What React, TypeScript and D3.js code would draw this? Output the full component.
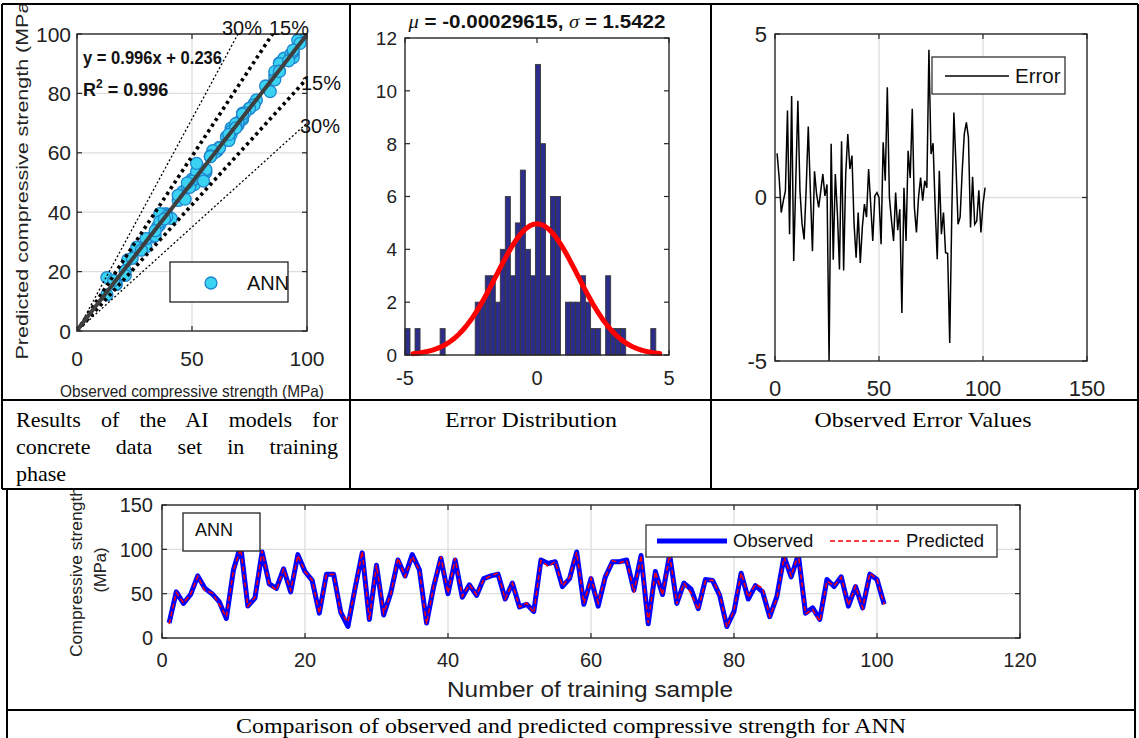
import * as d3 from 'd3';
import { useLayoutEffect, useRef } from 'react';

const W = 1139, H = 738;
const SANS = '"Liberation Sans", Arial, Helvetica, sans-serif';
const SERIF = '"Liberation Serif", "Times New Roman", serif';

// observed compressive strength per training sample (MPa), samples 1..101
const observed = [
  17, 52, 39, 49, 70, 56, 50, 41, 22, 77, 104, 36, 45, 97, 61, 56, 78, 52, 94, 75,
  65, 28, 72, 72, 29, 13, 56, 96, 21, 82, 26, 51, 88, 70, 94, 77, 17, 58, 90, 50,
  88, 46, 60, 48, 67, 70, 72, 44, 62, 35, 38, 30, 88, 84, 86, 58, 67, 97, 38, 67,
  36, 69, 86, 86, 88, 54, 93, 16, 75, 49, 94, 39, 62, 55, 33, 66, 65, 48, 13, 30,
  73, 44, 59, 52, 24, 47, 92, 69, 94, 28, 34, 21, 66, 58, 69, 36, 58, 34, 72, 66, 38,
];

// error (observed - predicted) per sample
const errors = [
  1.35, 0.6, -0.46, -0.1, 0.2, 2.66, -1.12, 3.1, -1.94, 0.5,
  2.96, 0.2, -0.8, -1.28, 0.3, 2.17, 0.2, -1.64, 0.8, 0.1,
  -0.3, 0.2, 0.72, 0.05, 0.4, -5.0, 1.64, -1.9, 0.72, -0.5,
  -2.2, 1.72, -2.23, 0.72, 1.94, 0.87, 1.28, -0.8, -1.84, -0.46,
  -2.0, -0.9, -0.2, -0.6, 0.87, -0.2, -1.33, 0.05, 0.15, 0.0,
  -1.43, 1.69, 0.51, 3.37, 0.0, -0.7, -1.33, 0.15, -1.0, -0.36,
  -3.53, 0.3, -1.33, 1.43, 0.6, 2.71, -0.3, -1.07, 0.0, 0.61,
  -0.1, 0.51, 0.3, 4.52, 1.33, 1.66, -0.3, -1.89, 0.82, -1.12,
  -0.46, -1.69, -1.71, -4.45, -0.5, 2.6, 1.0, -0.82, -0.6, 0.8,
  1.94, 2.3, 1.84, -0.92, 0.63, -0.82, -0.72, 0.22, -1.07, -0.2, 0.3,
];

const predicted = observed.map((o, i) => o - errors[i]);

// histogram of errors (50 bins starting at -5, width 0.19)
const histCounts = [
  1, 0, 1, 0, 0, 0, 0, 1, 0, 0,
  0, 0, 0, 0, 2, 2, 3, 3, 2, 4,
  6, 3, 5, 7, 4, 3, 11, 8, 3, 6,
  6, 0, 2, 2, 2, 3, 2, 1, 1, 0,
  3, 1, 1, 1, 0, 0, 0, 0, 0, 1,
];
const HIST_MIN = -5, HIST_BIN = 0.19;
const MU = -0.00029615, SIGMA = 1.5422;

const FIT_SLOPE = 0.996, FIT_INT = 0.236, FIT_R2 = 0.996;
const bandPcts = [15, 30];

const scatterXTicks = [0, 50, 100];
const scatterYTicks = [0, 20, 40, 60, 80, 100];
const histXTicks = [-5, 0, 5];
const histYTicks = [0, 2, 4, 6, 8, 10, 12];
const errXTicks = [0, 50, 100, 150];
const errYTicks = [-5, 0, 5];
const cmpXTicks = [0, 20, 40, 60, 80, 100, 120];
const cmpYTicks = [0, 50, 100, 150];

const GRID = '#dedede';
const AXIS = '#262626';

type Sc = d3.ScaleLinear<number, number>;

function Frame({ xs, ys, xt, yt, grid = { x: [], y: [] } as { x: number[]; y: number[] }, tick = 5 }:
  { xs: Sc; ys: Sc; xt: number[]; yt: number[]; grid?: { x: number[]; y: number[] }; tick?: number }) {
  const [x0, x1] = xs.range();
  const [y0, y1] = ys.range(); // y0 bottom, y1 top
  return (
    <g>
      {grid.x.map((v) => <line key={'gx' + v} x1={xs(v)} x2={xs(v)} y1={y0} y2={y1} stroke={GRID} strokeWidth={1.3} />)}
      {grid.y.map((v) => <line key={'gy' + v} x1={x0} x2={x1} y1={ys(v)} y2={ys(v)} stroke={GRID} strokeWidth={1.3} />)}
      {xt.map((v) => (
        <g key={'xt' + v}>
          <line x1={xs(v)} x2={xs(v)} y1={y0} y2={y0 - tick} stroke={AXIS} strokeWidth={1.2} />
          <line x1={xs(v)} x2={xs(v)} y1={y1} y2={y1 + tick} stroke={AXIS} strokeWidth={1.2} />
        </g>
      ))}
      {yt.map((v) => (
        <g key={'yt' + v}>
          <line x1={x0} x2={x0 + tick} y1={ys(v)} y2={ys(v)} stroke={AXIS} strokeWidth={1.2} />
          <line x1={x1} x2={x1 - tick} y1={ys(v)} y2={ys(v)} stroke={AXIS} strokeWidth={1.2} />
        </g>
      ))}
    </g>
  );
}

function Box({ xs, ys }: { xs: Sc; ys: Sc }) {
  const [x0, x1] = xs.range();
  const [y0, y1] = ys.range();
  return <rect x={x0} y={y1} width={x1 - x0} height={y0 - y1} fill="none" stroke={AXIS} strokeWidth={1.4} />;
}

function Scatter() {
  const xs = d3.scaleLinear().domain([0, 100]).range([77, 307]);
  const ys = d3.scaleLinear().domain([0, 100]).range([331, 34]);
  const bandLine = (s: number) => (s > 1 ? [100 / s, 100] : [100, 100 * s]);
  return (
    <g fontFamily={SANS}>
      <defs>
        <clipPath id="scClip"><rect x={77} y={34} width={230} height={297} /></clipPath>
        <clipPath id="cellClip"><rect x={3} y={5} width={346} height={394} /></clipPath>
      </defs>
      <Frame xs={xs} ys={ys} xt={scatterXTicks} yt={scatterYTicks} grid={{ x: [50], y: [20, 40, 60, 80] }} />
      <g clipPath="url(#scClip)">
        {observed.map((o, i) => (
          <circle key={i} cx={xs(o)} cy={ys(predicted[i])} r={6} fill="#3ad3f2" stroke="#1f86cf" strokeWidth={1.3} />
        ))}
        {bandPcts.map((p) => {
          const up = bandLine(1 / (1 - p / 100));
          const dn = bandLine(1 - p / 100);
          const thick = p === 15;
          return (
            <g key={p} stroke="#000" fill="none" strokeWidth={thick ? 3.6 : 1.3} strokeDasharray={thick ? '3.2 3.6' : '2 2.2'}>
              <line x1={xs(0)} y1={ys(0)} x2={xs(up[0])} y2={ys(up[1])} />
              <line x1={xs(0)} y1={ys(0)} x2={xs(dn[0])} y2={ys(dn[1])} />
            </g>
          );
        })}
        <line x1={xs(0)} y1={ys(FIT_INT)} x2={xs(100)} y2={ys(FIT_SLOPE * 100 + FIT_INT)} stroke="#3f3f3f" strokeWidth={4} />
      </g>
      <Box xs={xs} ys={ys} />
      {scatterYTicks.map((v) => (
        <text key={v} x={71} y={ys(v)} dy="0.36em" textAnchor="end" fontSize={21} fill="#222">{v}</text>
      ))}
      {scatterXTicks.map((v) => (
        <text key={v} x={xs(v)} y={366} textAnchor="middle" fontSize={21} fill="#222">{v}</text>
      ))}
      <text x={192} y={397} textAnchor="middle" fontSize={16.5} fill="#222" textLength={264} lengthAdjust="spacingAndGlyphs">
        Observed compressive strength (MPa)
      </text>
      <g clipPath="url(#cellClip)">
        <text transform="translate(28,177) rotate(-90)" textAnchor="middle" fontSize={17} fill="#222" textLength={365} lengthAdjust="spacingAndGlyphs">
          Predicted compressive strength (MPa)
        </text>
      </g>
      <text x={83} y={64} fontSize={18} fontWeight="bold" fill="#111" textLength={139} lengthAdjust="spacingAndGlyphs">
        {`y = ${FIT_SLOPE}x + ${FIT_INT}`}
      </text>
      <text x={83} y={96} fontSize={18} fontWeight="bold" fill="#111">
        R<tspan dy={-8} fontSize={12}>2</tspan><tspan dy={8}>{` = ${FIT_R2}`}</tspan>
      </text>
      <text x={222} y={35} fontSize={20} fill="#111">30%</text>
      <text x={269} y={35} fontSize={20} fill="#111">15%</text>
      <text x={301} y={90} fontSize={20} fill="#111">15%</text>
      <text x={300} y={133} fontSize={20} fill="#111">30%</text>
      <rect x={170} y={262} width={118} height={40} fill="#fff" stroke="#222" strokeWidth={1.3} />
      <circle cx={211} cy={283} r={6} fill="#3ad3f2" stroke="#1f86cf" strokeWidth={1.3} />
      <text x={247} y={290} fontSize={20} fill="#111">ANN</text>
    </g>
  );
}

function Histogram() {
  const xs = d3.scaleLinear().domain([-5, 5]).range([405, 669]);
  const ys = d3.scaleLinear().domain([0, 12]).range([355, 38]);
  const scale = d3.sum(histCounts) * HIST_BIN;
  const pdf = (x: number) => Math.exp(-0.5 * ((x - MU) / SIGMA) ** 2) / (SIGMA * Math.sqrt(2 * Math.PI));
  const curve = d3.line<number>().x((x) => xs(x)).y((x) => ys(scale * pdf(x)));
  const xsCurve = d3.range(-4.7, 4.66, 0.05);
  return (
    <g fontFamily={SANS}>
      <Frame xs={xs} ys={ys} xt={histXTicks} yt={histYTicks} />
      {histCounts.map((c, k) =>
        c > 0 ? (
          <rect key={k} x={xs(HIST_MIN + k * HIST_BIN)} y={ys(c)} width={xs(HIST_MIN + (k + 1) * HIST_BIN) - xs(HIST_MIN + k * HIST_BIN)}
            height={ys(0) - ys(c)} fill="#2c2c8a" stroke="#3a3a3a" strokeWidth={0.9} />
        ) : null
      )}
      <path d={curve(xsCurve) || ''} fill="none" stroke="#ff0000" strokeWidth={5} strokeLinecap="round" />
      <Box xs={xs} ys={ys} />
      {histYTicks.map((v) => (
        <text key={v} x={397} y={ys(v)} dy="0.36em" textAnchor="end" fontSize={19} fill="#222">{v}</text>
      ))}
      {histXTicks.map((v) => (
        <text key={v} x={xs(v)} y={385} textAnchor="middle" fontSize={20} fill="#222">{v}</text>
      ))}
      <text x={537} y={28} textAnchor="middle" fontSize={19} fontWeight="bold" fill="#111" textLength={257} lengthAdjust="spacingAndGlyphs">
        <tspan fontStyle="italic" fontWeight="normal" fontFamily={SERIF}>μ</tspan>
        {` = ${MU}, `}
        <tspan fontStyle="italic" fontWeight="normal" fontFamily={SERIF}>σ</tspan>
        {` = ${SIGMA}`}
      </text>
    </g>
  );
}

function ErrorPlot() {
  const xs = d3.scaleLinear().domain([0, 150]).range([775, 1087]);
  const ys = d3.scaleLinear().domain([-5, 5]).range([361, 34]);
  const line = d3.line<number>().x((_, i) => xs(i + 1)).y((e) => ys(e));
  return (
    <g fontFamily={SANS}>
      <Frame xs={xs} ys={ys} xt={errXTicks} yt={errYTicks} grid={{ x: [50, 100], y: [0] }} />
      <path d={line(errors) || ''} fill="none" stroke="#000" strokeWidth={1.5} />
      <Box xs={xs} ys={ys} />
      {errYTicks.map((v) => (
        <text key={v} x={767} y={ys(v)} dy="0.36em" textAnchor="end" fontSize={22} fill="#222">{v}</text>
      ))}
      {errXTicks.map((v) => (
        <text key={v} x={xs(v)} y={396} textAnchor="middle" fontSize={22} fill="#222">{v}</text>
      ))}
      <rect x={932} y={57} width={133} height={37} fill="#fff" stroke="#333" strokeWidth={1.3} />
      <line x1={945} x2={1009} y1={76} y2={76} stroke="#000" strokeWidth={1.5} />
      <text x={1015} y={83} fontSize={20.5} fill="#111">Error</text>
    </g>
  );
}

function Comparison() {
  const xs = d3.scaleLinear().domain([0, 120]).range([162, 1020]);
  const ys = d3.scaleLinear().domain([0, 150]).range([638, 505]);
  const line = d3.line<number>().x((_, i) => xs(i + 1)).y((v) => ys(v));
  return (
    <g fontFamily={SANS}>
      <defs>
        <clipPath id="botClip"><rect x={8} y={490} width={1126} height={219} /></clipPath>
      </defs>
      <Frame xs={xs} ys={ys} xt={cmpXTicks} yt={cmpYTicks} grid={{ x: [20, 40, 60, 80, 100], y: [50, 100] }} />
      <path d={line(observed) || ''} fill="none" stroke="#0000ff" strokeWidth={5} strokeLinejoin="round" />
      <path d={line(predicted) || ''} fill="none" stroke="#ff0000" strokeWidth={1.5} strokeDasharray="5 3" />
      <Box xs={xs} ys={ys} />
      {cmpYTicks.map((v) => (
        <text key={v} x={153} y={ys(v)} dy="0.36em" textAnchor="end" fontSize={20} fill="#222">{v}</text>
      ))}
      {cmpXTicks.map((v) => (
        <text key={v} x={xs(v)} y={667} textAnchor="middle" fontSize={20} fill="#222">{v}</text>
      ))}
      <text x={590} y={697} textAnchor="middle" fontSize={22} fill="#222" textLength={286} lengthAdjust="spacingAndGlyphs">
        Number of training sample
      </text>
      <g clipPath="url(#botClip)">
        <text transform="translate(82,572) rotate(-90)" textAnchor="middle" fontSize={16.5} fill="#222" textLength={170} lengthAdjust="spacingAndGlyphs">
          Compressive strength
        </text>
      </g>
      <text transform="translate(106,570) rotate(-90)" textAnchor="middle" fontSize={16.5} fill="#222">(MPa)</text>
      <rect x={183} y={513} width={77} height={38} fill="#fff" stroke="#222" strokeWidth={1.3} />
      <text x={195} y={536} fontSize={18} fill="#111">ANN</text>
      <rect x={646} y={525} width={351} height={32} fill="#fff" stroke="#333" strokeWidth={1.3} />
      <line x1={657} x2={727} y1={541} y2={541} stroke="#0000ff" strokeWidth={5} />
      <text x={733} y={547} fontSize={18.5} fill="#111">Observed</text>
      <line x1={830} x2={900} y1={541} y2={541} stroke="#ff0000" strokeWidth={1.5} strokeDasharray="5 3" />
      <text x={906} y={547} fontSize={18.5} fill="#111">Predicted</text>
    </g>
  );
}

function Table() {
  return (
    <g stroke="#000" strokeWidth={2} fill="none">
      <line x1={2} x2={1138} y1={4} y2={4} />
      <line x1={2} x2={1138} y1={400} y2={400} />
      <line x1={2} x2={1138} y1={489} y2={489} />
      <line x1={7} x2={1135} y1={710} y2={710} />
      <line x1={2} x2={2} y1={4} y2={489} />
      <line x1={1138} x2={1138} y1={4} y2={489} />
      <line x1={350} x2={350} y1={4} y2={489} />
      <line x1={711} x2={711} y1={4} y2={489} />
      <line x1={7} x2={7} y1={489} y2={740} />
      <line x1={1135} x2={1135} y1={489} y2={740} />
    </g>
  );
}

// text line stretched to a given width by widening the gaps between words
function Justified({ x, y, width, text }: { x: number; y: number; width: number; text: string }) {
  const ref = useRef<SVGTextElement>(null);
  useLayoutEffect(() => {
    const el = ref.current;
    if (!el) return;
    el.setAttribute('word-spacing', '0');
    const natural = el.getComputedTextLength();
    const gaps = text.split(' ').length - 1;
    if (gaps > 0) el.setAttribute('word-spacing', String((width - natural) / gaps));
  }, [text, width]);
  return <text ref={ref} x={x} y={y}>{text}</text>;
}

function Captions() {
  return (
    <g fontFamily={SERIF} fontSize={22} fill="#000">
      <Justified x={16} y={427} width={322} text="Results of the AI models for" />
      <Justified x={16} y={454} width={322} text="concrete data set in training" />
      <text x={16} y={481}>phase</text>
      <text x={531} y={427} textAnchor="middle" textLength={172} lengthAdjust="spacingAndGlyphs">Error Distribution</text>
      <text x={923} y={427} textAnchor="middle" textLength={217} lengthAdjust="spacingAndGlyphs">Observed Error Values</text>
      <text x={571} y={733} textAnchor="middle" textLength={670} lengthAdjust="spacingAndGlyphs">
        Comparison of observed and predicted compressive strength for ANN
      </text>
    </g>
  );
}

export default function App() {
  return (
    <svg width={W} height={H} viewBox={`0 0 ${W} ${H}`} style={{ position: 'absolute', left: 0, top: 0, background: '#fff' }}>
      <rect width={W} height={H} fill="#fff" />
      <Scatter />
      <Histogram />
      <ErrorPlot />
      <Comparison />
      <Captions />
      <Table />
    </svg>
  );
}
